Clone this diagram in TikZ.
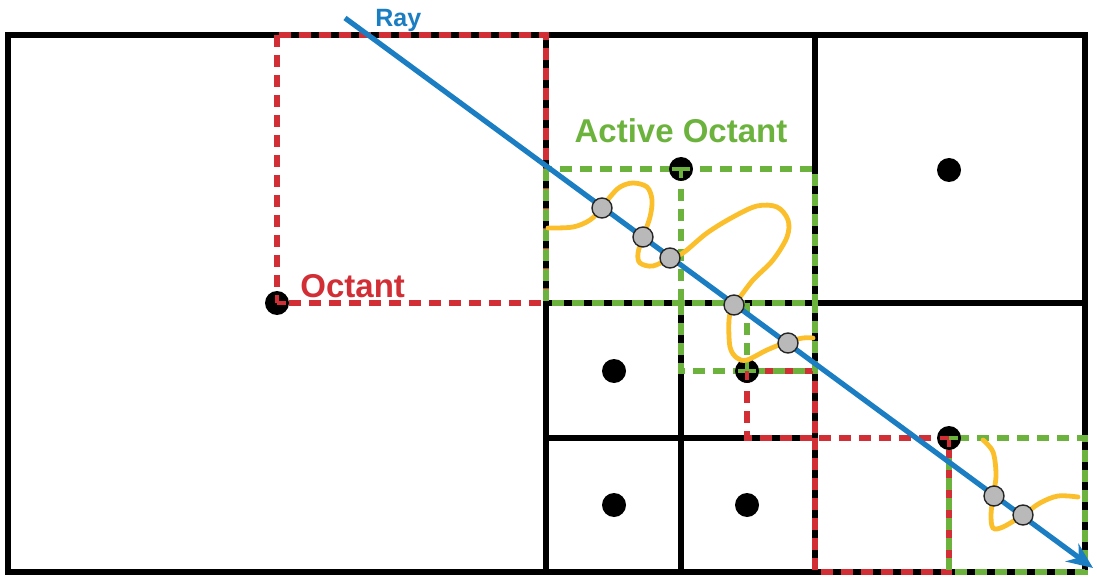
\documentclass[tikz,border=0pt]{standalone}
\usepackage{fontspec}
\setmainfont{Liberation Sans}
\usetikzlibrary{arrows.meta}

\definecolor{octred}{HTML}{D12F35}
\definecolor{octgreen}{HTML}{6CB33E}
\definecolor{rayblue}{HTML}{1B7EC2}
\definecolor{curveyellow}{HTML}{FBBF2C}

\tikzset{
  gridline/.style={line width=3.4pt, black},
  reddash/.style={octred, line width=2.6pt, dash pattern=on 6pt off 4pt},
  greendash/.style={octgreen, line width=2.6pt, dash pattern=on 6pt off 4pt},
  redmark/.style={octred, line width=2.4pt},
  greenmark/.style={octgreen, line width=2.4pt},
  centredot/.style={circle, fill=black, inner sep=0pt, minimum size=12pt},
  hitpoint/.style={circle, fill=gray!55, draw=gray!30!black, line width=0.7pt, inner sep=0pt, minimum size=10pt},
  surface/.style={curveyellow, line width=2.4pt, line cap=round},
  octlabel/.style={font=\bfseries\fontsize{16.5}{19}\selectfont, inner sep=0pt},
}

\begin{document}
\begin{tikzpicture}[x=0.5pt, y=-0.5pt]
    \useasboundingbox (0,0) rectangle (1097,577);

    % Grid
    \draw[gridline] (8,35) rectangle (1085,572);
    \draw[gridline] (546,35) -- (546,572);
    \draw[gridline] (815,35) -- (815,572);
    \draw[gridline] (546,303) -- (1085,303);
    \draw[gridline] (681,303) -- (681,572);
    \draw[gridline] (546,438) -- (815,438);

    % Octants
    \draw[reddash] (277,35) rectangle (546,303);
    \draw[reddash] (747,371) rectangle (815,438);
    \draw[reddash] (815,438) rectangle (949,572);

    % Active octants
    \draw[greendash] (546,169) rectangle (815,303);
    \draw[greendash] (681,169) -- (681,303);
    \draw[greendash] (681,303) rectangle (815,371);
    \draw[greendash] (747,303) -- (747,371);
    \draw[greendash] (949,438) rectangle (1085,572);

    % Node centres
    \node[centredot] (dotL) at (277,303) {};
    \node[centredot] (dotA) at (681,169) {};
    \node[centredot] (dotB) at (747,371) {};
    \node[centredot] (dotC) at (949,438) {};
    \node[centredot] (dotTR) at (949,170) {};
    \node[centredot] (dotQ1) at (614,371) {};
    \node[centredot] (dotQ3) at (614,505) {};
    \node[centredot] (dotQ4) at (747,505) {};

    % Marks inside the centres
    \draw[redmark] (dotL.center) -- ++(0,-8) (dotL.center) -- ++(9,0);
    \draw[greenmark] (dotA.center) -- ++(-9,0) (dotA.center) -- ++(9,0) (dotA.center) -- ++(0,9);
    \draw[greenmark] (dotB.center) -- ++(-9,0) (dotB.center) -- ++(9,0) (dotB.center) -- ++(0,-9);
    \draw[redmark] (dotB.center) -- ++(0,9);
    \draw[redmark] (dotC.center) -- ++(-9,0) (dotC.center) -- ++(0,9);
    \draw[greenmark] (dotC.center) -- ++(9,0);

    % Surface
    \draw[surface] plot[smooth, tension=0.55] coordinates {
        (548,228) (573,227) (590,220) (602,208) (610,197) (620,187) (633,183)
        (647,187) (652,200) (650,217) (643,237) (638,253) (640,263) (653,266)
        (670,258) (683,253) (707,233) (733,217) (757,206) (777,207) (788,220)
        (787,237) (773,260) (753,280) (740,297) (733,305) (729,320) (730,347)
        (737,358) (747,360) (767,350) (787,342) (803,338) (813,338)};
    \draw[surface] plot[smooth, tension=0.55] coordinates {
        (983,440) (993,452) (996,475) (993,497) (991,515) (993,528) (1003,527)
        (1023,515) (1040,503) (1058,496) (1078,497)};

    % Ray
    \coordinate (raystart) at (345,18);
    \coordinate (rayend) at (1093,568);
    \draw[rayblue, line width=2.6pt, -{Stealth[length=13pt, width=11pt]}] (raystart) -- (rayend);
    \node[octlabel, rayblue, font=\bfseries\fontsize{12.5}{15}\selectfont, anchor=base west] (lblray) at (375,27) {Ray};

    % Hit points
    \foreach \px/\py [count=\i] in {602/208, 643/237, 670/258, 734/305, 788/343, 994/496, 1023/515}
        \node[hitpoint] (hit\i) at (\px,\py) {};

    % Labels
    \node[octlabel, octgreen, anchor=base] (lblactive) at (681,143) {Active Octant};
    \node[octlabel, octred, anchor=base west] (lbloctant) at (300,297) {Octant};
\end{tikzpicture}
\end{document}
